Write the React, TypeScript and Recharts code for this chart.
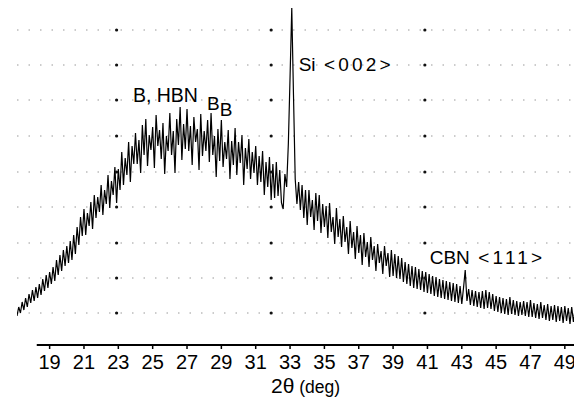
import React from 'react';
import { LineChart, Line, XAxis, YAxis, ReferenceLine, ReferenceDot } from 'recharts';

const twoTheta = [
  17.1, 17.2, 17.3, 17.4, 17.5, 17.6, 17.7, 17.8, 17.9,
  18.0, 18.1, 18.2, 18.3, 18.4, 18.5, 18.6, 18.7, 18.8, 18.9,
  19.0, 19.1, 19.2, 19.3, 19.4, 19.5, 19.6, 19.7, 19.8, 19.9,
  20.0, 20.1, 20.2, 20.3, 20.4, 20.5, 20.6, 20.7, 20.8, 20.9,
  21.0, 21.1, 21.2, 21.3, 21.4, 21.5, 21.6, 21.7, 21.8, 21.9,
  22.0, 22.1, 22.2, 22.3, 22.4, 22.5, 22.6, 22.7, 22.8, 22.9,
  23.0, 23.1, 23.2, 23.3, 23.4, 23.5, 23.6, 23.7, 23.8, 23.9,
  24.0, 24.1, 24.2, 24.3, 24.4, 24.5, 24.6, 24.7, 24.8, 24.9,
  25.0, 25.1, 25.2, 25.3, 25.4, 25.5, 25.6, 25.7, 25.8, 25.9,
  26.0, 26.1, 26.2, 26.3, 26.4, 26.5, 26.6, 26.7, 26.8, 26.9,
  27.0, 27.1, 27.2, 27.3, 27.4, 27.5, 27.6, 27.7, 27.8, 27.9,
  28.0, 28.1, 28.2, 28.3, 28.4, 28.5, 28.6, 28.7, 28.8, 28.9,
  29.0, 29.1, 29.2, 29.3, 29.4, 29.5, 29.6, 29.7, 29.8, 29.9,
  30.0, 30.1, 30.2, 30.3, 30.4, 30.5, 30.6, 30.7, 30.8, 30.9,
  31.0, 31.1, 31.2, 31.3, 31.4, 31.5, 31.6, 31.7, 31.8, 31.9,
  32.0, 32.1, 32.2, 32.3, 32.4, 32.5, 32.6, 32.7, 32.8, 32.9,
  33.0, 33.1, 33.2, 33.3, 33.4, 33.5, 33.6, 33.7, 33.8, 33.9,
  34.0, 34.1, 34.2, 34.3, 34.4, 34.5, 34.6, 34.7, 34.8, 34.9,
  35.0, 35.1, 35.2, 35.3, 35.4, 35.5, 35.6, 35.7, 35.8, 35.9,
  36.0, 36.1, 36.2, 36.3, 36.4, 36.5, 36.6, 36.7, 36.8, 36.9,
  37.0, 37.1, 37.2, 37.3, 37.4, 37.5, 37.6, 37.7, 37.8, 37.9,
  38.0, 38.1, 38.2, 38.3, 38.4, 38.5, 38.6, 38.7, 38.8, 38.9,
  39.0, 39.1, 39.2, 39.3, 39.4, 39.5, 39.6, 39.7, 39.8, 39.9,
  40.0, 40.1, 40.2, 40.3, 40.4, 40.5, 40.6, 40.7, 40.8, 40.9,
  41.0, 41.1, 41.2, 41.3, 41.4, 41.5, 41.6, 41.7, 41.8, 41.9,
  42.0, 42.1, 42.2, 42.3, 42.4, 42.5, 42.6, 42.7, 42.8, 42.9,
  43.0, 43.1, 43.2, 43.3, 43.4, 43.5, 43.6, 43.7, 43.8, 43.9,
  44.0, 44.1, 44.2, 44.3, 44.4, 44.5, 44.6, 44.7, 44.8, 44.9,
  45.0, 45.1, 45.2, 45.3, 45.4, 45.5, 45.6, 45.7, 45.8, 45.9,
  46.0, 46.1, 46.2, 46.3, 46.4, 46.5, 46.6, 46.7, 46.8, 46.9,
  47.0, 47.1, 47.2, 47.3, 47.4, 47.5, 47.6, 47.7, 47.8, 47.9,
  48.0, 48.1, 48.2, 48.3, 48.4, 48.5, 48.6, 48.7, 48.8, 48.9,
  49.0, 49.1, 49.2, 49.3, 49.4, 49.5, 49.6, 49.7, 49.8, 49.9,
  50.0,
];

const intensity = [
  29, 38, 32, 43, 35, 47, 38, 51, 42,
  55, 44, 58, 47, 61, 50, 66, 54, 70, 57,
  73, 61, 78, 64, 85, 70, 90, 74, 95, 79,
  99, 82, 104, 85, 110, 91, 118, 100, 128, 109,
  136, 110, 132, 119, 143, 116, 150, 127, 148, 133,
  160, 130, 155, 141, 170, 137, 164, 150, 178, 142,
  176, 155, 193, 160, 187, 170, 203, 163, 199, 181,
  212, 181, 205, 172, 220, 190, 226, 179, 210, 195,
  218, 177, 230, 199, 215, 186, 222, 171, 209, 194,
  232, 190, 214, 172, 226, 200, 238, 185, 221, 196,
  236, 194, 219, 180, 228, 203, 216, 175, 231, 189,
  214, 194, 225, 183, 232, 190, 209, 168, 216, 184,
  225, 178, 203, 186, 215, 166, 204, 180, 217, 170,
  203, 182, 210, 160, 197, 176, 206, 166, 193, 172,
  199, 160, 189, 163, 194, 150, 183, 158, 188, 145,
  181, 147, 183, 149, 175, 142, 136, 171, 158, 201,
  268, 337, 250, 166, 141, 163, 135, 160, 127, 155,
  120, 155, 128, 145, 115, 152, 124, 150, 112, 141,
  118, 139, 107, 142, 113, 128, 101, 137, 108, 126,
  98, 129, 103, 118, 91, 124, 97, 113, 86, 119,
  92, 110, 80, 112, 88, 103, 78, 108, 85, 99,
  74, 101, 82, 94, 71, 99, 79, 92, 68, 95,
  69, 91, 67, 89, 66, 87, 63, 83, 61, 81,
  59, 79, 57, 78, 56, 76, 55, 74, 53, 73,
  52, 71, 51, 69, 49, 68, 48, 66, 47, 65,
  46, 64, 45, 63, 44, 62, 43, 61, 42, 59,
  41, 57, 75, 44, 56, 40, 55, 39, 54, 38,
  53, 37, 54, 36, 55, 37, 53, 36, 51, 34,
  49, 33, 48, 32, 47, 31, 46, 30, 48, 31,
  45, 30, 44, 29, 43, 30, 44, 29, 43, 28,
  45, 28, 42, 27, 41, 26, 43, 27, 40, 25,
  41, 24, 39, 25, 40, 23, 39, 24, 38, 22,
  39, 24, 37, 21, 38, 23, 37, 20, 36, 24,
  33,
];

const xTicks = [19, 21, 23, 25, 27, 29, 31, 33, 35, 37, 39, 41, 43, 45, 47, 49];
const gridRows = [32, 67, 102, 138, 173, 209, 245, 280, 315];
const gridCols = [22.9, 31.9, 40.85, 49.85];

const annotationHead = ['B, HBN', 'B', 'B', 'Si', 'CBN'];
const annotationTail = ['', '', '', ' <002>', ' <111>'];
const annotationAt = [
  { x: 23.85, y: 243 },
  { x: 28.16, y: 235 },
  { x: 28.9, y: 229 },
  { x: 33.5, y: 274 },
  { x: 41.13, y: 81 },
];

const FONT = '"Liberation Sans", Arial, Helvetica, sans-serif';

const data = twoTheta.map((t, i) => ({ t, v: intensity[i] }));

const makeLabel = (head: string, tail: string, size: number) => (props: any) => {
  const vb = props.viewBox || {};
  return (
    <text x={vb.x} y={vb.y} fontFamily={FONT} fontSize={size} fill="#000" textAnchor="start">
      <tspan>{head}</tspan>
      {tail ? <tspan letterSpacing={3.2}>{tail}</tspan> : null}
    </text>
  );
};

const axisTitle = (props: any) => {
  const vb = props.viewBox || {};
  const cx = vb.x + vb.width / 2 + 6;
  return (
    <text x={cx} y={vb.y + 48} textAnchor="middle" fontFamily={FONT} fill="#000">
      <tspan fontSize={21}>2θ</tspan>
      <tspan fontSize={17.5}> (deg)</tspan>
    </text>
  );
};

export default function App() {
  const annSizes = [19.5, 19, 19, 19, 19];
  return (
    <LineChart
      width={574}
      height={392}
      data={data}
      margin={{ top: 0, right: 0, bottom: 0, left: 9 }}
      style={{ background: '#fff' }}
    >
      <XAxis
        type="number"
        dataKey="t"
        domain={[17.1, 50]}
        ticks={xTicks}
        interval={0}
        allowDataOverflow
        height={55}
        axisLine={false}
        tickSize={4}
        tickMargin={6}
        tickLine={{ stroke: '#000', strokeWidth: 1.5 }}
        tick={{ fontSize: 20, fill: '#000', fontFamily: FONT }}
        label={axisTitle}
      />
      <YAxis hide type="number" domain={[0, 337]} allowDataOverflow />
      {gridRows.map((r) => (
        <ReferenceLine
          key={'r' + r}
          y={r}
          stroke="#999"
          strokeWidth={1}
          strokeDasharray="1.5 10"
        />
      ))}
      {gridCols.map((c) =>
        gridRows.map((r) => (
          <ReferenceDot
            key={'d' + c + '-' + r}
            x={c}
            y={r}
            r={1.6}
            fill="#111"
            stroke="none"
          />
        ))
      )}
      <ReferenceLine
        segment={[
          { x: 18.25, y: 0 },
          { x: 50, y: 0 },
        ]}
        stroke="#000"
        strokeWidth={2}
        ifOverflow="visible"
      />
      <Line
        type="linear"
        dataKey="v"
        stroke="#000"
        strokeWidth={1.2}
        dot={false}
        isAnimationActive={false}
      />
      {annotationHead.map((txt, i) => (
        <ReferenceDot
          key={'a' + i}
          x={annotationAt[i].x}
          y={annotationAt[i].y}
          r={0}
          fill="none"
          stroke="none"
          ifOverflow="visible"
          label={makeLabel(txt, annotationTail[i], annSizes[i])}
        />
      ))}
    </LineChart>
  );
}
